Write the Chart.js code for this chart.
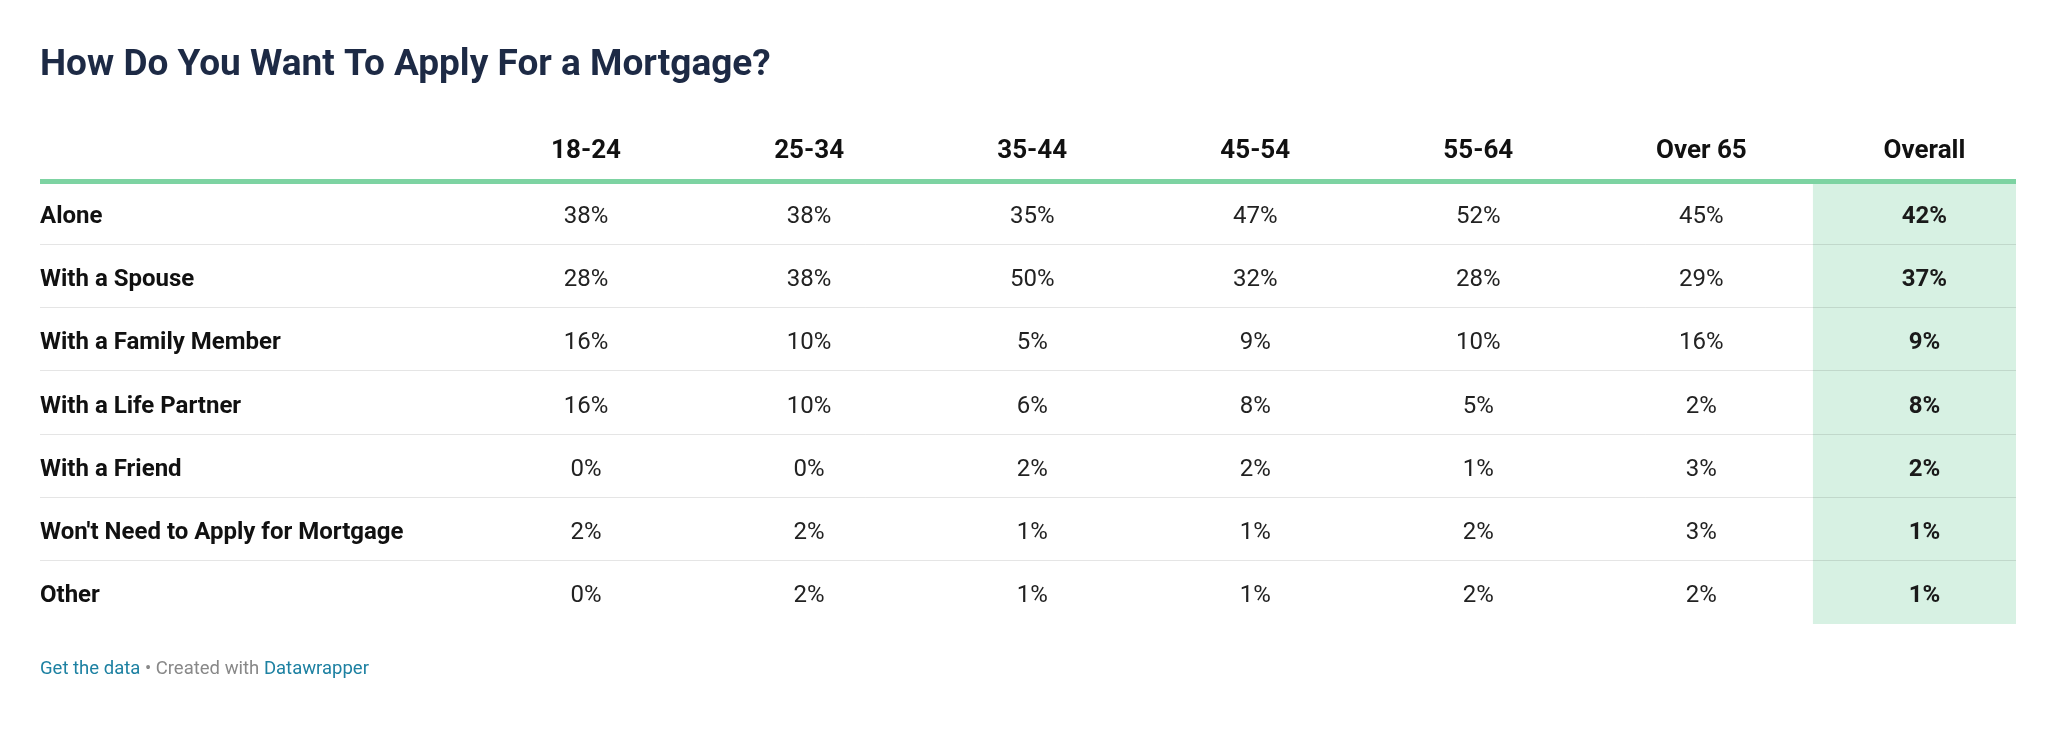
<!DOCTYPE html>
<html>
<head>
<meta charset="utf-8">
<script src="https://cdn.jsdelivr.net/npm/chart.js@4.4.1/dist/chart.umd.min.js"></script>
<style>
  html, body { margin: 0; padding: 0; background: #ffffff; }
  #wrap { position: relative; width: 2016px; height: 741px; overflow: hidden; }
  #inner { position: absolute; left: 0; top: 0; width: 2036px; height: 741px; }
  #footer {
    position: absolute; left: 40px; top: 658px;
    font-family: Roboto, sans-serif; font-size: 18.5px; line-height: 20px;
    color: #888888; white-space: nowrap;
  }
  #footer a { color: #1d81a2; text-decoration: none; }
</style>
</head>
<body>
<div id="wrap">
  <div id="inner"><canvas id="c"></canvas></div>
  <div id="footer"><a>Get the data</a> • Created with <a>Datawrapper</a></div>
</div>
<script>
// ---- data ----
const title = 'How Do You Want To Apply For a Mortgage?';
const rowLabels = ['Alone', 'With a Spouse', 'With a Family Member', 'With a Life Partner', 'With a Friend', "Won't Need to Apply for Mortgage", 'Other'];
const columnLabels = ['18-24', '25-34', '35-44', '45-54', '55-64', 'Over 65', 'Overall'];
const age18to24 = [38, 28, 16, 16, 0, 2, 0];
const age25to34 = [38, 38, 10, 10, 0, 2, 2];
const age35to44 = [35, 50, 5, 6, 2, 1, 1];
const age45to54 = [47, 32, 9, 8, 2, 1, 1];
const age55to64 = [52, 28, 10, 5, 1, 2, 2];
const over65 = [45, 29, 16, 2, 3, 3, 2];
const overall = [42, 37, 9, 8, 2, 1, 1];
const highlightedColumn = 'Overall';

const columnValues = [age18to24, age25to34, age35to44, age45to54, age55to64, over65, overall];

const GREEN = '#7dd3a2';
const HIGHLIGHT_BG = '#d7f1e3';
const FONT = 'Roboto, "Noto Sans", sans-serif';
const TEXT_SHIFT = 4;   // optical centring of Roboto in canvas 'middle' baseline

const datasets = columnLabels.map((col, c) => ({
  label: col,
  bold: col === highlightedColumn,
  data: rowLabels.map((row, r) => ({ x: col, y: row, v: columnValues[c][r] })),
  pointRadius: 0,
  pointHoverRadius: 0,
  showLine: false
}));

const highlightPlugin = {
  id: 'highlightColumn',
  beforeDraw(chart) {
    const x = chart.scales.x, area = chart.chartArea;
    const idx = columnLabels.indexOf(highlightedColumn);
    const w = x.getPixelForValue(1) - x.getPixelForValue(0);
    const cx = x.getPixelForValue(idx);
    const ctx = chart.ctx;
    ctx.save();
    ctx.fillStyle = HIGHLIGHT_BG;
    ctx.fillRect(cx - w / 2, area.top, w, area.bottom - area.top);
    ctx.restore();
  }
};

const cellTextPlugin = {
  id: 'cellText',
  afterDatasetsDraw(chart) {
    const ctx = chart.ctx;
    ctx.save();
    ctx.textAlign = 'center';
    ctx.textBaseline = 'middle';
    chart.data.datasets.forEach((ds, i) => {
      const meta = chart.getDatasetMeta(i);
      ctx.font = (ds.bold ? 'bold ' : '') + '24px ' + FONT;
      ctx.fillStyle = ds.bold ? '#1a1a1a' : '#222222';
      meta.data.forEach((pt, j) => {
        ctx.fillText(ds.data[j].v + '%', pt.x, pt.y + TEXT_SHIFT);
      });
    });
    ctx.restore();
  }
};

const LABEL_COL_WIDTH = 434.5;
const lastGrid = rowLabels.length;

new Chart(document.getElementById('c'), {
  type: 'scatter',
  data: { datasets },
  plugins: [highlightPlugin, cellTextPlugin],
  options: {
    responsive: true,
    maintainAspectRatio: false,
    animation: false,
    events: [],
    layout: { padding: { top: 0, left: 40, right: 0, bottom: 117 } },
    plugins: {
      legend: { display: false },
      tooltip: { enabled: false },
      title: {
        display: true,
        text: title,
        align: 'start',
        color: '#1d2a45',
        font: { family: FONT, size: 37, weight: 'bold', lineHeight: 1.2 },
        padding: { top: 44, bottom: 44.6 }
      }
    },
    scales: {
      x: {
        type: 'category',
        labels: columnLabels,
        position: 'top',
        offset: true,
        grid: { display: false, drawTicks: false },
        border: { display: false },
        ticks: {
          color: '#111111',
          padding: 14,
          maxRotation: 0,
          autoSkip: false,
          font: { family: FONT, size: 26, weight: 'bold', lineHeight: 1.2 }
        },
        afterFit(scale) { scale.height = 48; }
      },
      y: {
        type: 'category',
        labels: rowLabels,
        position: 'left',
        offset: true,
        grid: {
          offset: true,
          drawTicks: true,
          tickLength: LABEL_COL_WIDTH,
          color: (c) => c.index === 0 ? GREEN : ((c.index === undefined || c.index >= lastGrid) ? 'rgba(0,0,0,0)' : 'rgba(0,0,0,0.1)'),
          lineWidth: (c) => c.index === 0 ? 5 : 1
        },
        border: { display: false },
        ticks: {
          crossAlign: 'far',
          padding: 0,
          labelOffset: TEXT_SHIFT,
          autoSkip: false,
          color: '#111111',
          font: { family: FONT, size: 24, weight: 'bold', lineHeight: 1.2 }
        },
        afterFit(scale) { scale.width = LABEL_COL_WIDTH; }
      }
    }
  }
});
</script>
</body>
</html>
